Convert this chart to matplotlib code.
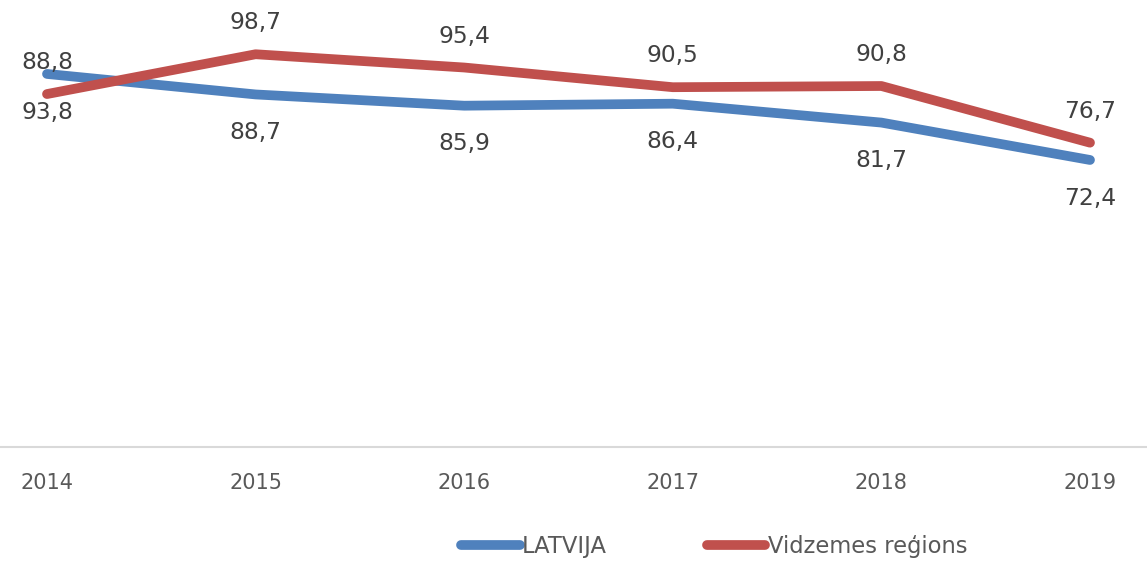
import matplotlib
matplotlib.use("Agg")
import matplotlib.pyplot as plt

years = [2014, 2015, 2016, 2017, 2018, 2019]
latvija = [93.8, 88.7, 85.9, 86.4, 81.7, 72.4]
vidzeme = [88.8, 98.7, 95.4, 90.5, 90.8, 76.7]
series_names = ["LATVIJA", "Vidzemes reģions"]
colors = ["#4F81BD", "#C0504D"]

plt.rcParams['font.family'] = ['DejaVu Sans']

W, H = 1147, 561
fig = plt.figure(figsize=(W / 100, H / 100), dpi=100)
ax_bottom = 561 - 447
ax_height = 447 - 41
ax = fig.add_axes([0, ax_bottom / H, 1, ax_height / H])
ax.set_ylim(1, 1 + ax_height / 4.02)
ax.set_xlim(2014 - 47 / 208.6, 2019 + 57 / 208.6)

lines = []
for vals, c, name in zip([latvija, vidzeme], colors, series_names):
    ln, = ax.plot(years, vals, color=c, lw=7.0, solid_capstyle='round',
                  solid_joinstyle='round', label=name, clip_on=False)
    lines.append(ln)

def fmt(v):
    return f"{v:.1f}".replace(".", ",")

for x, v in zip(years, latvija):
    ax.annotate(fmt(v), (x, v), xytext=(0, -27.5), textcoords='offset points',
                ha='center', va='center', fontsize=16.8, color='#404040')
for x, v in zip(years, vidzeme):
    ax.annotate(fmt(v), (x, v), xytext=(0, 22.5), textcoords='offset points',
                ha='center', va='center', fontsize=16.8, color='#404040')

for s in ['top', 'right', 'left']:
    ax.spines[s].set_visible(False)
ax.spines['bottom'].set_color('#D9D9D9')
ax.spines['bottom'].set_linewidth(1.5)
ax.set_yticks([])
ax.set_xticks(years)
ax.set_xticklabels([str(y) for y in years], fontsize=15, color='#595959')
ax.tick_params(axis='x', length=0, pad=19)

fig.legend(handles=lines, labels=series_names, loc='center',
           bbox_to_anchor=(714 / W, 1 - 546 / H), ncol=2, frameon=False,
           fontsize=16.3, handlelength=2.6, handletextpad=0.1,
           columnspacing=4.4, labelcolor='#595959')

fig.savefig("out.png", dpi=100)
